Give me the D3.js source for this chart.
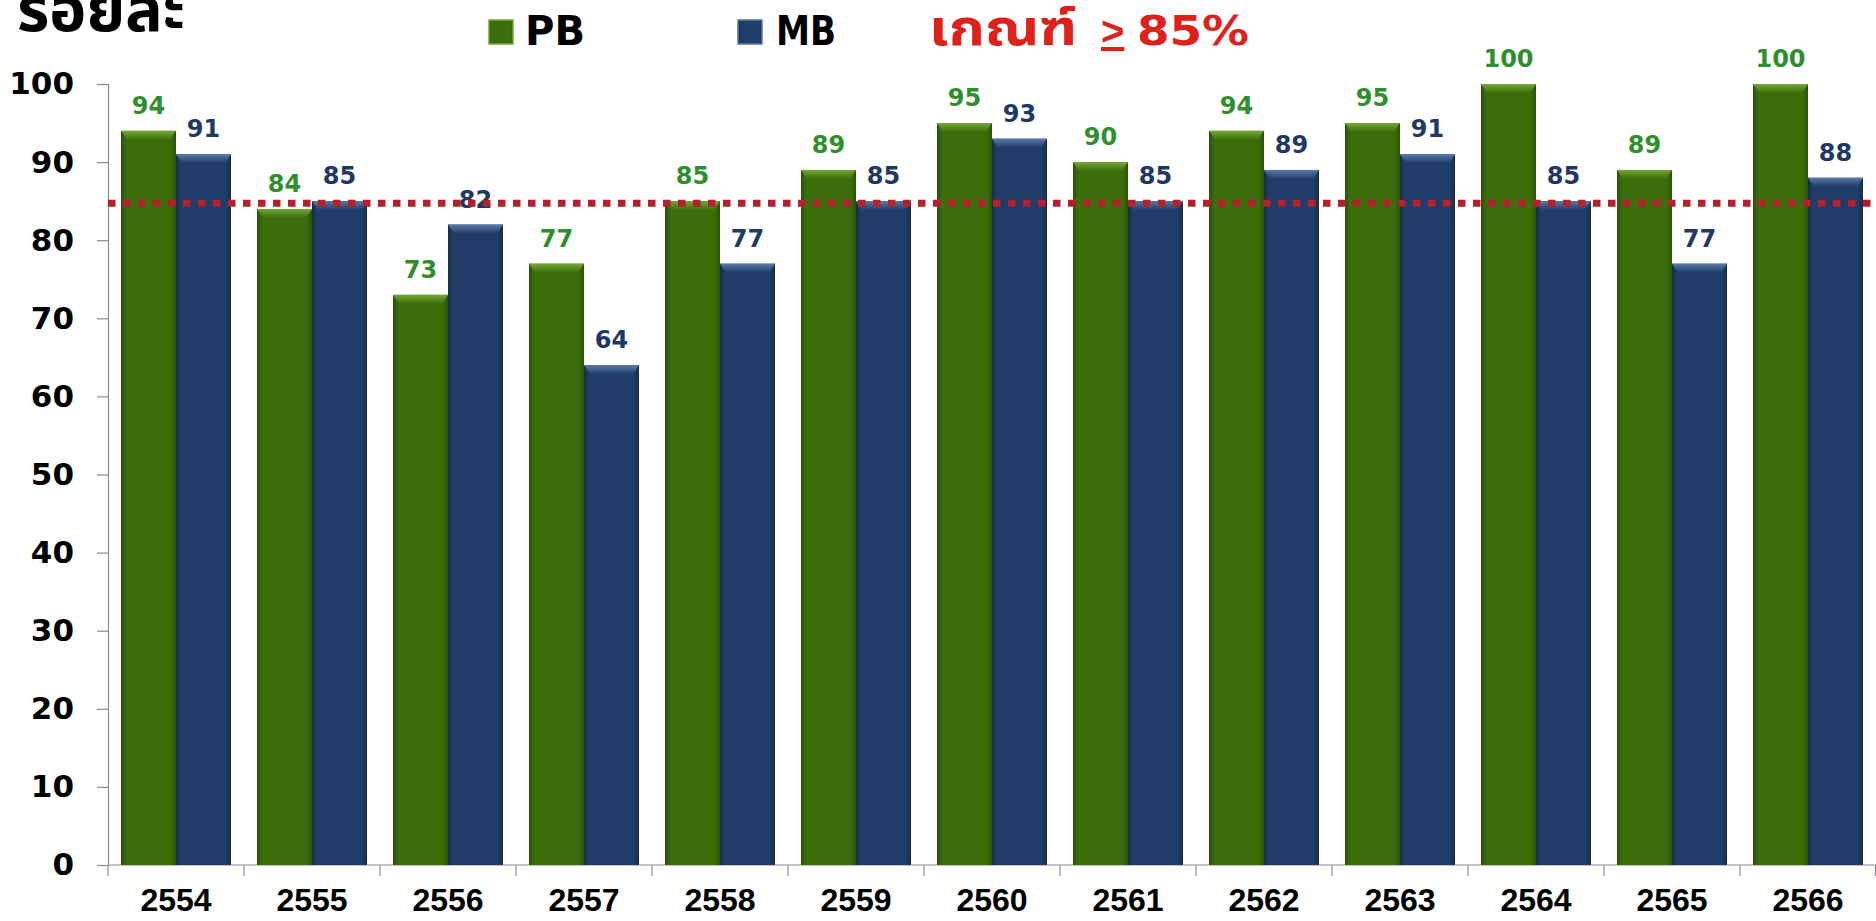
<!DOCTYPE html>
<html>
<head>
<meta charset="utf-8">
<script src="https://cdn.jsdelivr.net/npm/d3@7"></script>
<style>
  body { margin: 0; background: #fff; }
  svg { display: block; }
  .tick-y { font-family: "DejaVu Sans", sans-serif; font-weight: bold; font-size: 31px; fill: #000; }
  .tick-x { font-family: "Liberation Sans", sans-serif; font-weight: bold; font-size: 32px; fill: #000; }
  .val { font-family: "DejaVu Sans", sans-serif; font-weight: bold; font-size: 24px; }
</style>
</head>
<body>
<div id="chart"></div>
<script>
var years = ["2554", "2555", "2556", "2557", "2558", "2559", "2560", "2561", "2562", "2563", "2564", "2565", "2566"];
var seriesNames = ["PB", "MB"];
var pbValues = [94, 84, 73, 77, 85, 89, 95, 90, 94, 95, 100, 89, 100];
var mbValues = [91, 85, 82, 64, 77, 85, 93, 85, 89, 91, 85, 77, 88];
var yTicks = [0, 10, 20, 30, 40, 50, 60, 70, 80, 90, 100];
var threshold = 85;

var W = 1876, H = 921;
var plotLeft = 108, plotRight = 1876, plotTop = 84, plotBottom = 865;

var colors = {
  PB: { base: "#3b6d0b", dark: "#2a5009", light: "#76a836", label: "#2f8f2f" },
  MB: { base: "#1f3d68", dark: "#152b4c", light: "#5a7aa8", label: "#1f3864" }
};

var svg = d3.select("#chart").append("svg")
  .attr("width", W)
  .attr("height", H);

var defs = svg.append("defs");
seriesNames.forEach(function(s) {
  var g = defs.append("linearGradient").attr("id", "side-" + s)
    .attr("x1", "0%").attr("x2", "100%").attr("y1", "0%").attr("y2", "0%");
  g.append("stop").attr("offset", "0%").attr("stop-color", colors[s].dark);
  g.append("stop").attr("offset", "9%").attr("stop-color", colors[s].base);
  g.append("stop").attr("offset", "91%").attr("stop-color", colors[s].base);
  g.append("stop").attr("offset", "100%").attr("stop-color", colors[s].dark);
  var t = defs.append("linearGradient").attr("id", "top-" + s)
    .attr("x1", "0%").attr("x2", "0%").attr("y1", "0%").attr("y2", "100%");
  t.append("stop").attr("offset", "0%").attr("stop-color", colors[s].light);
  t.append("stop").attr("offset", "100%").attr("stop-color", colors[s].base);
});

var x0 = d3.scaleBand().domain(years).range([plotLeft, plotRight]).paddingInner(0).paddingOuter(0);
var inset = 13;
var x1 = d3.scaleBand().domain(seriesNames).range([inset, x0.bandwidth() - inset]).padding(0);
var y = d3.scaleLinear().domain([0, 100]).range([plotBottom, plotTop]);

// y axis
var yAxis = d3.axisLeft(y).tickValues(yTicks).tickSize(11).tickPadding(23);
var gy = svg.append("g").attr("transform", "translate(" + plotLeft + ",0)").call(yAxis);
gy.select(".domain").attr("stroke", "#8c8c8c").attr("stroke-width", 1.2);
gy.selectAll(".tick line").attr("stroke", "#8c8c8c").attr("stroke-width", 1.2);
gy.selectAll(".tick text").attr("class", "tick-y");
gy.attr("font-size", null).attr("font-family", null);

// x axis with ticks between categories
var gx = svg.append("g").attr("transform", "translate(0," + plotBottom + ")");
gx.append("line").attr("x1", plotLeft).attr("x2", plotRight).attr("y1", 0).attr("y2", 0)
  .attr("stroke", "#8c8c8c").attr("stroke-width", 1.2);
var bounds = years.map(function(d) { return x0(d); }).concat([plotRight - 0.5]);
gx.selectAll(".xt").data(bounds).enter().append("line")
  .attr("x1", function(d) { return d; }).attr("x2", function(d) { return d; })
  .attr("y1", 0).attr("y2", 11)
  .attr("stroke", "#8c8c8c").attr("stroke-width", 1.2);
gx.selectAll(".xl").data(years).enter().append("text")
  .attr("class", "tick-x")
  .attr("x", function(d) { return x0(d) + x0.bandwidth() / 2; })
  .attr("y", 46)
  .attr("text-anchor", "middle")
  .text(function(d) { return d; });

// bars
var rows = years.map(function(yr, i) {
  return { year: yr, values: [{ key: "PB", v: pbValues[i] }, { key: "MB", v: mbValues[i] }] };
});

var groups = svg.append("g").selectAll(".grp").data(rows).enter().append("g")
  .attr("transform", function(d) { return "translate(" + x0(d.year) + ",0)"; });

var bars = groups.selectAll(".bar").data(function(d) { return d.values; }).enter().append("g");

bars.append("rect")
  .attr("x", function(d) { return x1(d.key); })
  .attr("y", function(d) { return y(d.v); })
  .attr("width", x1.bandwidth())
  .attr("height", function(d) { return plotBottom - y(d.v); })
  .attr("fill", function(d) { return "url(#side-" + d.key + ")"; });

bars.append("path")
  .attr("d", function(d) {
    var a = x1(d.key), b = a + x1.bandwidth(), t = y(d.v), h = 9, s = 6;
    return "M" + a + "," + t + "L" + b + "," + t + "L" + (b - s) + "," + (t + h) + "L" + (a + s) + "," + (t + h) + "Z";
  })
  .attr("fill", function(d) { return "url(#top-" + d.key + ")"; });

bars.append("text")
  .attr("class", "val")
  .attr("x", function(d) { return x1(d.key) + x1.bandwidth() / 2; })
  .attr("y", function(d) { return y(d.v) - 17; })
  .attr("text-anchor", "middle")
  .attr("fill", function(d) { return colors[d.key].label; })
  .text(function(d) { return d.v; });

// threshold line
svg.append("line")
  .attr("x1", plotLeft).attr("x2", plotRight)
  .attr("y1", y(threshold) + 2).attr("y2", y(threshold) + 2)
  .attr("stroke", "#b3222c").attr("stroke-width", 7)
  .attr("stroke-dasharray", "7.5,7.5");

// title
svg.append("text")
  .attr("x", 17).attr("y", 31)
  .attr("font-family", "'Noto Sans Thai', 'Noto Sans', 'DejaVu Sans', sans-serif")
  .attr("font-weight", "bold").attr("font-size", 62)
  .attr("textLength", 168).attr("lengthAdjust", "spacingAndGlyphs")
  .text("ร้อยละ");

// legend
var legend = [
  { key: "PB", sx: 489, tx: 525 },
  { key: "MB", sx: 738, tx: 776 }
];
var lg = svg.append("g");
lg.selectAll("rect").data(legend).enter().append("rect")
  .attr("x", function(d) { return d.sx; }).attr("y", 20)
  .attr("width", 24).attr("height", 24)
  .attr("fill", function(d) { return "url(#side-" + d.key + ")"; })
  .attr("stroke", function(d) { return colors[d.key].light; }).attr("stroke-width", 1.5);
lg.selectAll("text").data(legend).enter().append("text")
  .attr("x", function(d) { return d.tx; }).attr("y", 45)
  .attr("font-family", "'DejaVu Sans Condensed', 'DejaVu Sans', sans-serif")
  .attr("font-weight", "bold").attr("font-size", 41)
  .attr("textLength", 60).attr("lengthAdjust", "spacingAndGlyphs")
  .text(function(d) { return d.key; });

var red = "#e0201b";
svg.append("text")
  .attr("x", 929).attr("y", 45)
  .attr("font-family", "'Noto Sans Thai', 'DejaVu Sans', sans-serif")
  .attr("font-weight", "bold").attr("font-size", 50)
  .attr("textLength", 148).attr("lengthAdjust", "spacingAndGlyphs")
  .attr("fill", red)
  .text("เกณฑ์");
svg.append("text")
  .attr("x", 1101).attr("y", 45)
  .attr("font-family", "'Liberation Sans', sans-serif")
  .attr("font-weight", "bold").attr("font-size", 40)
  .attr("text-decoration", "underline")
  .attr("fill", red)
  .text(">");
svg.append("text")
  .attr("x", 1137).attr("y", 45)
  .attr("font-family", "'DejaVu Sans', sans-serif")
  .attr("font-weight", "bold").attr("font-size", 41)
  .attr("textLength", 112).attr("lengthAdjust", "spacingAndGlyphs")
  .attr("fill", red)
  .text("85%");
</script>
</body>
</html>
